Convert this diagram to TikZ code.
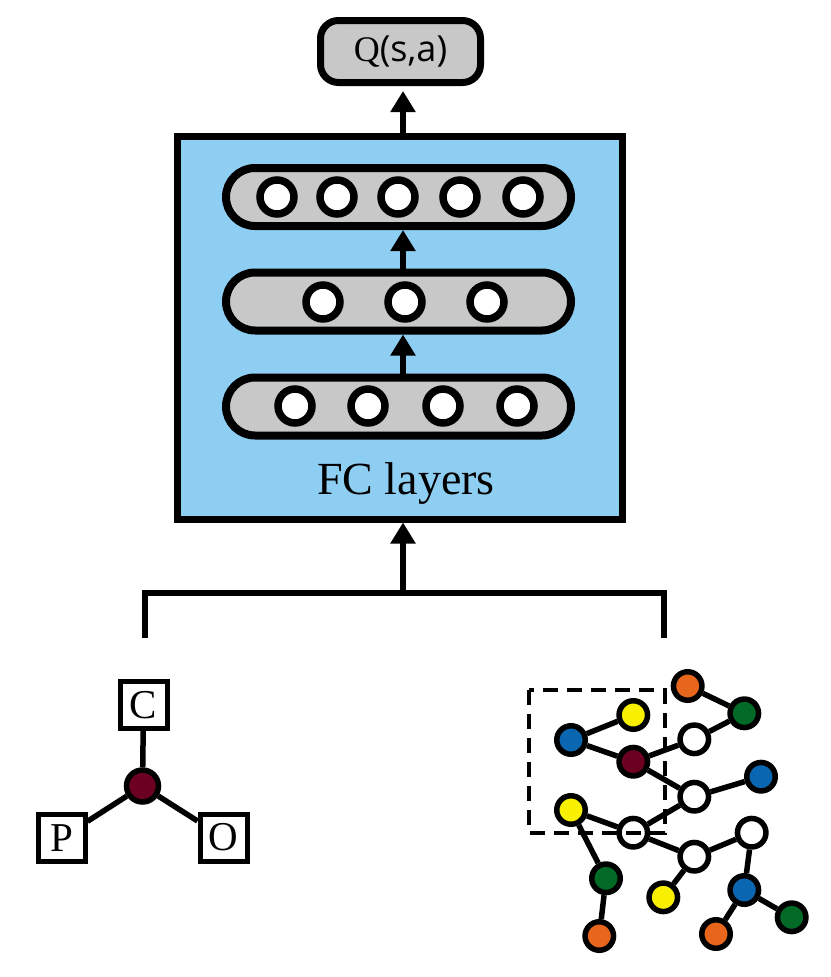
\documentclass[tikz,border=0pt]{standalone}
\usepackage{fontspec}
\setmainfont{Liberation Serif}
\newfontfamily\qsans{Open Sans}
\newfontfamily\qserif{Liberation Serif}
\usetikzlibrary{arrows.meta,backgrounds}
\definecolor{fcblue}{HTML}{8ECEF3}
\definecolor{pillgray}{HTML}{C8C8C8}
\definecolor{aorange}{HTML}{E8661C}
\definecolor{agreen}{HTML}{006A26}
\definecolor{ayellow}{HTML}{F8F000}
\definecolor{ablue}{HTML}{0A66B0}
\definecolor{amaroon}{HTML}{6B0020}
\tikzset{
  arr/.style={line width=5.5pt,-{Triangle[width=24pt,length=21pt]}},
  neuron/.style={circle,draw,line width=7.5pt,fill=white,minimum size=34pt,inner sep=0pt},
  pill/.style={draw,line width=8pt,fill=pillgray,rounded corners=29pt,minimum width=345pt,minimum height=58pt,inner sep=0pt},
  atom/.style={circle,draw,line width=5.5pt,minimum size=28.5pt,inner sep=0pt},
  elem/.style={draw,line width=5pt,fill=white,minimum width=47pt,minimum height=47pt,inner sep=0pt,font=\fontsize{41}{44}\selectfont},
  bond/.style={line width=5.5pt},
}
\begin{document}
\begin{tikzpicture}[x=1pt,y=-1pt]
\useasboundingbox (0,0) rectangle (830,977);
\coordinate (ax) at (403,0);
% Q box
\node[draw,line width=7pt,fill=pillgray,rounded corners=18pt,minimum width=160pt,minimum height=62pt,inner sep=0pt,font=\fontsize{36}{40}\selectfont] (Q) at (400.5,51.5) {{\qserif Q}{\qsans(s,a)}};
% FC box
\node[draw,line width=7pt,fill=fcblue,minimum width=445pt,minimum height=383pt,inner sep=0pt] (fc) at (399.5,327.5) {};
\node[anchor=base,font=\fontsize{46}{50}\selectfont] (fclab) at (406,494) {FC layers};
% pills
\node[pill] (L3) at (398.5,197) {};
\node[pill] (L2) at (398.5,301.5) {};
\node[pill] (L1) at (398.5,406.5) {};
\foreach \x [count=\i] in {277,337,398,460,523} \node[neuron] (t\i) at (\x,197) {};
\foreach \x [count=\i] in {323,405,487} \node[neuron] (m\i) at (\x,302) {};
\foreach \x [count=\i] in {295,368,443,517} \node[neuron] (b\i) at (\x,406) {};
\draw[arr] (L1.north -| ax) -- (L2.south -| ax);
\draw[arr] (L2.north -| ax) -- (L3.south -| ax);
\draw[arr,shorten >=5pt] (fc.north -| ax) -- (Q.south -| ax);
% bracket
\coordinate (bl) at (145,638);
\coordinate (br) at (664,638);
\coordinate (bm) at (403,593);
\draw[line width=5.5pt] (bl) |- (bm) -| (br);
\draw[arr] (bm) -- (fc.south -| ax);
% molecule
\node[elem] (C) at (143.5,705) {C};
\node[elem] (P) at (61.5,838) {P};
\node[elem] (O) at (223.5,837.5) {O};
\node[atom,fill=amaroon,minimum size=32pt] (X) at (142.5,786) {};
\begin{scope}[on background layer]
\draw[bond] (C) -- (X) (X) -- (P) (X) -- (O);
\end{scope}
% graph
\node[atom,fill=aorange] (g1) at (687.7,686) {};
\node[atom,fill=agreen] (g2) at (744.3,713.3) {};
\node[atom,fill=ayellow] (g3) at (633.3,715) {};
\node[atom,fill=ablue] (g4) at (571,740) {};
\node[atom,fill=white] (g5) at (694.3,739.3) {};
\node[atom,fill=amaroon] (g6) at (633.3,761.7) {};
\node[atom,fill=ablue] (g7) at (761,776.7) {};
\node[atom,fill=white] (g8) at (694.3,796.7) {};
\node[atom,fill=ayellow] (g9) at (571,810) {};
\node[atom,fill=white] (g10) at (633.3,832.7) {};
\node[atom,fill=white] (g11) at (751.7,832.7) {};
\node[atom,fill=white] (g12) at (694.3,856.7) {};
\node[atom,fill=agreen] (g13) at (606,878.3) {};
\node[atom,fill=ayellow] (g14) at (663.3,897.3) {};
\node[atom,fill=ablue] (g15) at (744.3,890) {};
\node[atom,fill=agreen] (g16) at (791.7,917.3) {};
\node[atom,fill=aorange] (g17) at (599.3,936) {};
\node[atom,fill=aorange] (g18) at (716,934) {};
\begin{scope}[on background layer]
\draw[bond] (g1)--(g2) (g2)--(g5) (g5)--(g6) (g6)--(g4) (g4)--(g3)
  (g6)--(g8) (g8)--(g7) (g8)--(g10) (g10)--(g9) (g9)--(g13) (g13)--(g17)
  (g10)--(g12) (g12)--(g11) (g12)--(g14) (g11)--(g15) (g15)--(g16) (g15)--(g18);
\end{scope}
\coordinate (d1) at (529,690);
\coordinate (d2) at (664.5,833);
\draw[line width=4pt,dash pattern=on 15pt off 9pt] (d1) rectangle (d2);
\end{tikzpicture}
\end{document}
